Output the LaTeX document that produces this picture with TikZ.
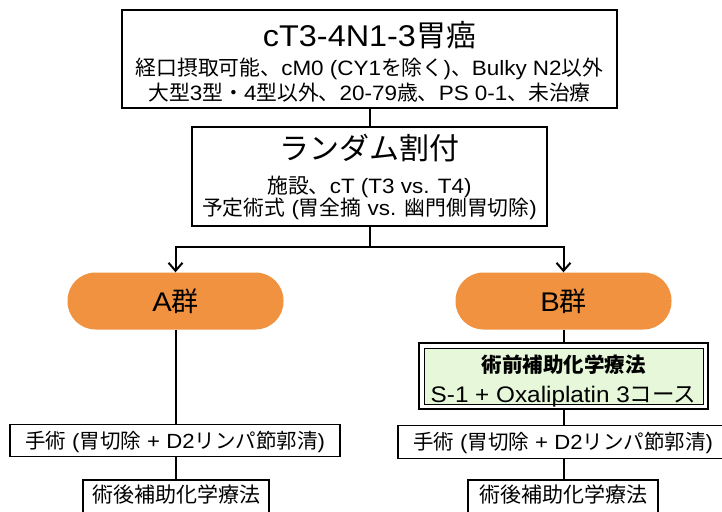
\documentclass[tikz,border=0pt]{standalone}
\usepackage{fontspec}
\setmainfont{Noto Sans CJK JP}
\newfontfamily\lf[FakeStretch=1.08]{Liberation Sans}
\newcommand\la[1]{{\lf #1}}
\usetikzlibrary{arrows.meta}
\definecolor{pillorange}{HTML}{F0923F}
\definecolor{greenfill}{HTML}{E6F8D9}
\tikzset{
  box/.style={draw=black, line width=1.6pt, fill=white, inner sep=0pt},
  pill/.style={fill=pillorange, rounded corners=28pt, inner sep=0pt},
  txt/.style={inner sep=0pt, anchor=base},
  conn/.style={draw=black, line width=2pt},
  arr/.style={conn, -{Straight Barb[length=8pt,width=14pt]}},
}
\newcommand\fs[1]{\fontsize{#1}{#1}\selectfont}
\begin{document}
\begin{tikzpicture}[x=1pt,y=-1pt]
\useasboundingbox (0,0) rectangle (722,511);
\clip (0,0) rectangle (722,511);
\fill[white] (0,0) rectangle (722,511);
% boxes
\node[box, minimum width=495pt, minimum height=98pt] (top) at (369.5,59) {};
\node[box, minimum width=355pt, minimum height=99pt] (rand) at (369.5,176.5) {};
\node[pill, minimum width=216pt, minimum height=57pt] (pa) at (175.5,301) {};
\node[pill, minimum width=216pt, minimum height=57pt] (pb) at (563.5,301) {};
\node[draw=black, line width=1.8pt, fill=white, minimum width=289pt, minimum height=66pt, inner sep=0pt] (chemo) at (563.5,376) {};
\node[draw=black, line width=1pt, fill=greenfill, minimum width=279pt, minimum height=56pt, inner sep=0pt] (chemoin) at (563.5,376) {};
\node[box, minimum width=330pt, minimum height=32pt] (sa) at (175,440.5) {};
\node[box, minimum width=330pt, minimum height=33pt] (sb) at (563,442) {};
\node[box, line width=1.8pt, minimum width=186pt, minimum height=44pt] (poa) at (176,502) {};
\node[box, line width=1.8pt, minimum width=190pt, minimum height=44pt] (pob) at (563,502) {};
% connectors
\coordinate (split) at (369.5,247);
\coordinate (la) at (175.5,247);
\coordinate (lb) at (563.5,247);
\draw[conn] (top.south) -- (rand.north);
\draw[conn] (rand.south) -- (split);
\draw[arr] (split) -- (la) -- (pa.north);
\draw[arr] (split) -- (lb) -- (pb.north);
\draw[conn] (pa.south) -- (pa.south |- sa.north);
\draw[conn] (pa.south |- sa.south) -- (pa.south |- poa.north);
\draw[conn] (pb.south) -- (chemo.north);
\draw[conn] (chemo.south) -- (pb.south |- sb.north);
\draw[conn] (pb.south |- sb.south) -- (pb.south |- pob.north);
% texts
\node[txt] (t1) at (369.5,46) {\fs{30}\la{cT3-4N1-3}胃癌};
\node[txt] (t2) at (369.5,75) {\fs{20.8}経口摂取可能、\la{cM0 (CY1}を除く\la{)}、\la{Bulky N2}以外};
\node[txt] (t3) at (369.5,100) {\fs{20.8}大型\la{3}型・\la{4}型以外、\la{20-79}歳、\la{PS 0-1}、未治療};
\node[txt] (r1) at (369.5,159) {\fs{30}ランダム割付};
\node[txt] (r2) at (369.5,193) {\fs{20.8}施設、\la{cT (T3 vs. T4)}};
\node[txt] (r3) at (369.5,215) {\fs{20.8}予定術式\la{ (}胃全摘\la{ vs. }幽門側胃切除\la{)}};
\node[txt] (ga) at (175.5,311) {\fs{27}\la{A}群};
\node[txt] (gb) at (563.5,311) {\fs{27}\la{B}群};
\node[txt] (c1) at (563.5,372) {\fs{20.5}\bfseries 術前補助化学療法};
\node[txt] (c2) at (563.5,402) {\fs{22.5}\la{S-1 + Oxaliplatin 3}コース};
\node[txt] (s1) at (175,448) {\fs{20.5}手術\la{ (}胃切除\la{ + D2}リンパ節郭清\la{)}};
\node[txt] (s2) at (563,449) {\fs{20.5}手術\la{ (}胃切除\la{ + D2}リンパ節郭清\la{)}};
\node[txt] (p1) at (176,502) {\fs{21}術後補助化学療法};
\node[txt] (p2) at (563,502) {\fs{21}術後補助化学療法};
\end{tikzpicture}
\end{document}
